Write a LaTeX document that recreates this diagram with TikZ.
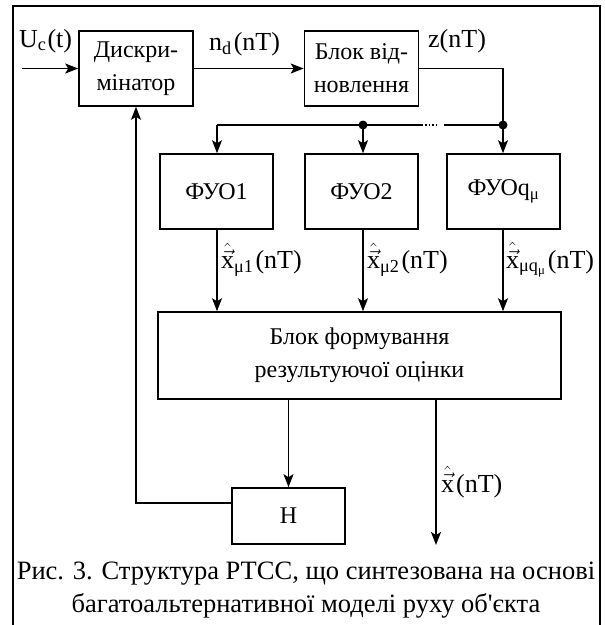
\documentclass[tikz,border=0pt]{standalone}
\usepackage{amsmath}
\usepackage{fontspec}
\setmainfont{Liberation Serif}[Ligatures=TeXOff]
\usetikzlibrary{arrows.meta}
\begin{document}
\begin{tikzpicture}[x=1pt,y=-1pt,
  blk/.style={draw,line width=1.6pt,minimum width=114pt,minimum height=75pt,inner sep=0pt,align=center,font=\fontsize{24}{33}\selectfont},
  lbl/.style={inner sep=0pt,font=\fontsize{26}{30}\selectfont},
  con/.style={line width=1.6pt},
  arr/.style={con,-{Stealth[length=13pt,width=10pt,inset=3pt]}},
  dot/.style={circle,fill,inner sep=0pt,minimum size=9pt}]
\useasboundingbox (0,0) rectangle (605,625);
% frame
\draw[line width=1.8pt] (13,625) -- (13,6) -- (600,6) -- (600,625);
% blocks
\node[blk] (disc) at (136,68.5) {Дискри-\\мінатор};
\node[blk] (vidn) at (361.5,68.5) {Блок від-\\новлення};
\node[blk,minimum width=113pt] (f1) at (216.5,191.5) {ФУО1};
\node[blk,minimum width=113pt] (f2) at (361.5,191.5) {ФУО2};
\node[blk,minimum width=113pt] (fq) at (503.5,191.5) {ФУОq\textsubscript{μ}};
\node[blk,minimum width=403pt,minimum height=87pt] (bf) at (359.5,355.5) {Блок формування\\результуючої оцінки};
\node[blk,minimum width=113pt,minimum height=56pt] (H) at (288.5,516) {Н};
% coordinates
\coordinate (in) at (22,68.5);
\coordinate (zc) at (503,68.5);
\coordinate (b0) at (217,125);
\node[dot] (d2) at (363,125) {};
\node[dot] (dq) at (503,125) {};
\coordinate (s1) at (422,125);
\coordinate (s2) at (438,125);
\coordinate (s3) at (444,125);
\coordinate (out) at (436,545);
% connectors
\draw[arr] (in) -- (disc.west);
\draw[arr] (disc.east) -- (vidn.west);
\draw[con] (vidn.east) -- (zc) -- (dq.center);
\draw[con] (b0) -- (s1);
\draw[line width=1.4pt,dotted] (s1) -- (s2);
\draw[con] (s3) -- (dq.center);
\draw[arr] (b0) -- (b0|-f1.north);
\draw[arr] (d2.center) -- (d2|-f2.north);
\draw[arr] (dq.center) -- (dq|-fq.north);
\draw[arr] (f1.south-|b0) -- (b0|-bf.north);
\draw[arr] (f2.south-|d2) -- (d2|-bf.north);
\draw[arr] (fq.south-|dq) -- (dq|-bf.north);
\draw[arr] (bf.south-|H) -- (H.north);
\draw[arr] (bf.south-|out) -- (out);
\draw[arr] ([yshift=13pt]H.west) -| (disc.south);
% labels
\node[lbl,anchor=west] (lu) at (19,41) {U\textsubscript{c}\kern1pt(t)};
\node[lbl,anchor=west] (ln) at (209,44) {n\textsubscript{d}\kern2pt(nT)};
\node[lbl,anchor=west] (lz) at (428,41) {z(nT)};
\node[lbl,anchor=west] (l1) at (221,260) {$\hat{\vec{\text{x}}}$\textsubscript{μ1}\kern2pt(nT)};
\node[lbl,anchor=west] (l2) at (367,260) {$\hat{\vec{\text{x}}}$\textsubscript{μ2}\kern2pt(nT)};
\node[lbl,anchor=west] (lq) at (506,260) {$\hat{\vec{\text{x}}}$\textsubscript{μq\textsubscript{μ}}\kern2pt(nT)};
\node[lbl,anchor=west] (lx) at (441,482) {$\hat{\vec{\text{x}}}$\kern2pt(nT)};
% caption
\node[align=center,inner sep=0pt,font=\fontsize{26.5}{33}\selectfont] (cap) at (306,590) {Рис. 3. Структура РТСС, що синтезована на основі\\багатоальтернативної моделі руху об'єкта};
\end{tikzpicture}
\end{document}
